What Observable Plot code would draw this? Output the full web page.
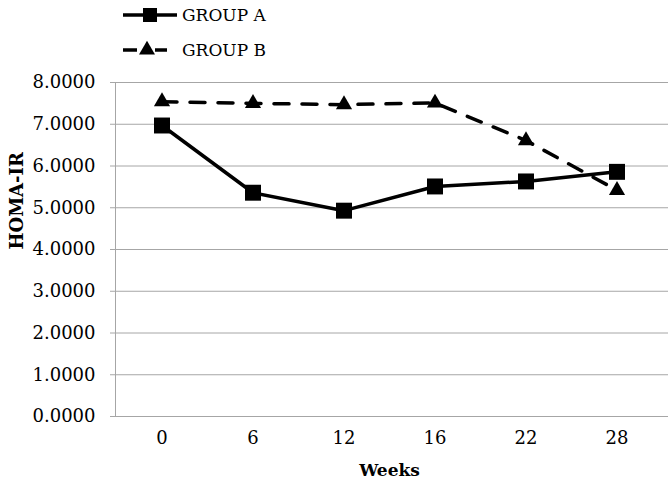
<!DOCTYPE html>
<html><head><meta charset="utf-8">
<script src="https://cdn.jsdelivr.net/npm/d3@7"></script>
<script src="https://cdn.jsdelivr.net/npm/@observablehq/plot@0.6"></script>
<style>
body{margin:0;background:#fff;}
#wrap{position:relative;width:668px;height:488px;font-family:"DejaVu Serif",serif;}
#legend{position:absolute;left:0;top:0;}
</style></head><body><div id="wrap"></div>
<script>
const weeks = ["0","6","12","16","22","28"];
const groupA = [6.97, 5.36, 4.93, 5.51, 5.63, 5.86];
const groupB = [7.54, 7.50, 7.47, 7.51, 6.61, 5.42];
const seriesNames = ["GROUP A", "GROUP B"];
const yTicks = [0, 1, 2, 3, 4, 5, 6, 7, 8];
const xLabel = "Weeks";
const yLabel = "HOMA-IR";

const A = weeks.map((w, i) => ({week: w, value: groupA[i], group: seriesNames[0]}));
const B = weeks.map((w, i) => ({week: w, value: groupB[i], group: seriesNames[1]}));
const fmt = d3.format(".4f");

const chart = Plot.plot({
  width: 668, height: 488,
  marginTop: 82, marginBottom: 72, marginLeft: 115, marginRight: 5,
  style: {fontFamily: "DejaVu Serif, serif", fontSize: "18px", background: "#fff", color: "#000"},
  x: {type: "band", domain: weeks, padding: 0, axis: null},
  y: {domain: [0, 8], axis: null},
  marks: [
    Plot.ruleY(yTicks, {y: d => d, stroke: "#a6a6a6", strokeWidth: 1, insetLeft: -5, insetRight: -5}),
    Plot.frame({anchor: "left", stroke: "#a6a6a6"}),
    Plot.text(yTicks, {y: d => d, text: d => fmt(d), frameAnchor: "left", dx: -20, textAnchor: "end",
      fontSize: 18, fill: "#000"}),
    Plot.text(weeks, {x: d => d, text: d => d, frameAnchor: "bottom", dy: 27, fontSize: 18, fill: "#000"}),
    Plot.text([yLabel], {frameAnchor: "left", dx: -98, rotate: -90, fontWeight: "bold", fontSize: 18}),
    Plot.text([xLabel], {frameAnchor: "bottom", dy: 59, fontWeight: "bold", fontSize: 17}),
    Plot.line(B, {x: "week", y: "value", stroke: "#000", strokeWidth: 3.5, strokeDasharray: "15,13"}),
    Plot.line(A, {x: "week", y: "value", stroke: "#000", strokeWidth: 3.5}),
    Plot.dot(B, {x: "week", y: "value", symbol: "triangle", r: 6, fill: "#000", stroke: null}),
    Plot.dot(A, {x: "week", y: "value", symbol: "square", r: 9, fill: "#000", stroke: null})
  ]
});

const wrap = document.getElementById("wrap");
wrap.appendChild(chart);

// Legend (HTML overlay, built from series names)
const leg = d3.select(wrap).append("svg").attr("id", "legend").attr("width", 300).attr("height", 70);
const rows = leg.selectAll("g").data(seriesNames).join("g")
  .attr("transform", (d, i) => `translate(0,${15 + i * 35})`);
rows.each(function(d, i) {
  const g = d3.select(this);
  if (i === 0) {
    g.append("line").attr("x1", 123).attr("x2", 177).attr("stroke", "#000").attr("stroke-width", 3.5);
    g.append("rect").attr("x", 143).attr("y", -7).attr("width", 14).attr("height", 14).attr("fill", "#000");
  } else {
    g.append("line").attr("x1", 123).attr("x2", 137).attr("stroke", "#000").attr("stroke-width", 3.5);
    g.append("line").attr("x1", 155).attr("x2", 167).attr("stroke", "#000").attr("stroke-width", 3.5);
    g.append("path").attr("d", d3.symbol(d3.symbolTriangle, 110)()).attr("transform", "translate(147,0)").attr("fill", "#000");
  }
  g.append("text").attr("x", 182).attr("y", 0).attr("dy", "0.35em")
    .style("font-family", "DejaVu Serif, serif").style("font-size", "17px").text(d);
});
</script></body></html>
